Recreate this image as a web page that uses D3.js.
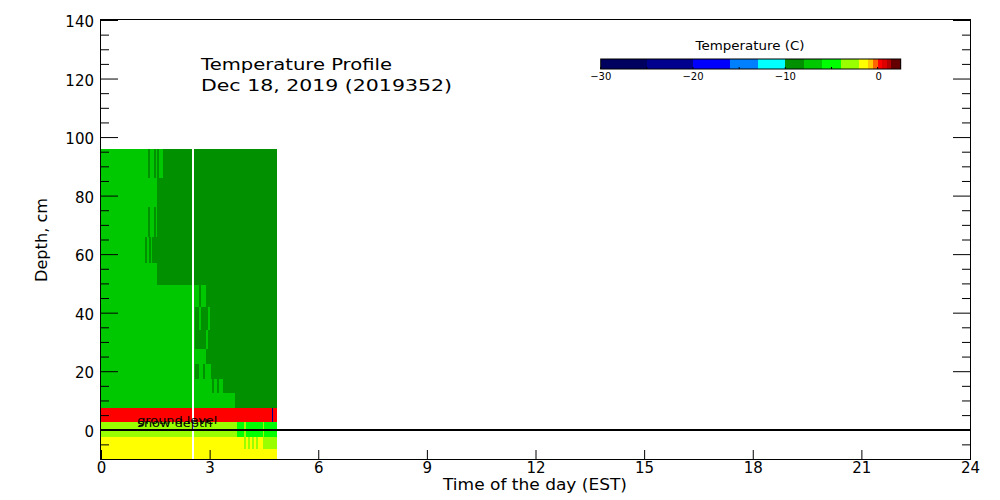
<!DOCTYPE html>
<html><head><meta charset="utf-8">
<script src="https://cdn.jsdelivr.net/npm/d3@7"></script>
<style>
body{margin:0;background:#fff}
svg{display:block}
text{font-family:"DejaVu Sans",sans-serif;fill:#000}
</style>
</head><body>
<svg id="c" width="1000" height="500"></svg>
<script>
// ---------- data ----------
const titleLines = ["Temperature Profile", "Dec 18, 2019 (2019352)"];
const xTitle = "Time of the day (EST)";
const yTitle = "Depth, cm";
const legendTitle = "Temperature (C)";
const hourTicks = [0, 3, 6, 9, 12, 15, 18, 21, 24];
const depthMajorTicks = [0, 20, 40, 60, 80, 100, 120, 140];
const depthMinorTicks = [-5, 5, 10, 15, 25, 30, 35, 45, 50, 55, 65, 70, 75, 85, 90, 95, 105, 110, 115, 125, 130, 135];
const colorEdges = [-30, -25, -20, -16, -13, -10, -8, -6, -4, -2, -1, -0.5, 0, 0.5, 1, 1.5, 2.5];
const colorHex = ["#00005f", "#00008f", "#0000ff", "#0080ff", "#00ffff", "#009000", "#00c800", "#00ff00",
                  "#99ff00", "#ffff00", "#ffc800", "#ff6400", "#ff0000", "#dc0000", "#b00000", "#640000"];
const legendTicks = [-30, -20, -10, 0];
const legendMinorTicks = [-25, -15, -5];
const levelLabels = ["ground level", "snow depth"];
const levelDepths = [2.0, 1.0];
const zeroDepth = 0;

// depth boundaries of sensor layers (cm), top to bottom
const depthEdges = [96, 86, 76, 66, 57, 49.5, 42, 34, 27.5, 22.5, 17.5, 12.5, 7.5, 2.5, -2.5, -6.5, -10];
// per layer: [start hour, end hour, temperature C]
const rowSegments = [
  [[0,1.30,-7.2],[1.30,1.35,-8.3],[1.35,1.46,-7.8],[1.46,1.52,-8.2],[1.52,1.55,-7.9],[1.55,1.60,-8.1],[1.60,1.71,-7.9],[1.71,2.51,-8.6],[2.57,4.86,-9.1]],
  [[0,1.55,-7.3],[1.55,2.51,-8.5],[2.57,4.86,-9.0]],
  [[0,1.30,-7.3],[1.30,1.35,-8.2],[1.35,1.46,-7.9],[1.46,1.52,-8.1],[1.52,1.55,-7.9],[1.55,2.51,-8.4],[2.57,4.86,-8.9]],
  [[0,1.22,-7.2],[1.22,1.27,-8.1],[1.27,1.33,-7.9],[1.33,1.37,-8.1],[1.37,1.41,-7.9],[1.41,2.51,-8.3],[2.57,4.86,-8.8]],
  [[0,1.55,-7.1],[1.55,2.51,-8.2],[2.57,4.86,-8.7]],
  [[0,2.51,-7.0],[2.57,2.71,-7.8],[2.71,2.76,-8.1],[2.76,2.90,-7.9],[2.90,4.86,-8.6]],
  [[0,2.51,-6.9],[2.57,2.60,-7.9],[2.60,2.71,-8.1],[2.71,2.76,-7.9],[2.76,2.96,-8.2],[2.96,3.01,-7.9],[3.01,4.86,-8.5]],
  [[0,2.51,-6.8],[2.57,2.60,-7.9],[2.60,2.90,-8.1],[2.90,2.96,-7.9],[2.96,4.86,-8.4]],
  [[0,2.51,-6.7],[2.57,2.90,-7.8],[2.90,4.86,-8.3]],
  [[0,2.51,-6.6],[2.57,2.60,-7.9],[2.60,2.71,-8.1],[2.71,2.82,-7.9],[2.82,2.87,-8.1],[2.87,3.04,-7.9],[3.04,4.86,-8.2]],
  [[0,2.51,-6.5],[2.57,3.07,-7.7],[3.07,3.12,-8.1],[3.12,3.20,-7.9],[3.20,3.26,-8.1],[3.26,3.37,-7.9],[3.37,4.86,-8.1]],
  [[0,2.51,-6.4],[2.57,3.70,-7.6],[3.70,4.86,-8.1]],
  [[0,2.51,0.2],[2.57,4.72,0.2],[4.72,4.75,-22.0],[4.75,4.86,0.2]],
  [[0,2.51,-3.0],[2.57,3.76,-3.6],[3.76,3.95,-4.2],[3.95,4.00,-3.9],[4.00,4.47,-4.3],[4.47,4.50,-3.9],[4.50,4.86,-4.4]],
  [[0,2.51,-1.5],[2.57,3.95,-1.8],[3.95,4.00,-2.1],[4.00,4.06,-1.9],[4.06,4.12,-2.1],[4.12,4.17,-1.9],[4.17,4.23,-2.1],[4.23,4.28,-1.9],[4.28,4.34,-2.1],[4.34,4.47,-1.9],[4.47,4.86,-2.2]],
  [[0,2.51,-1.3],[2.57,4.86,-1.6]]
];

// ---------- drawing ----------
const svg = d3.select("#c");
const x = d3.scaleLinear().domain([0, 24]).range([101, 970]);
const y = d3.scaleLinear().domain([-10, 140]).range([459, 20]);
const color = d3.scaleThreshold().domain(colorEdges.slice(1, -1)).range(colorHex);

// heatmap cells
const cells = [];
rowSegments.forEach((segs, i) => segs.forEach(s => cells.push({t0: s[0], t1: s[1], temp: s[2], top: depthEdges[i], bot: depthEdges[i + 1]})));
svg.append("g").attr("shape-rendering", "crispEdges")
  .selectAll("rect").data(cells).join("rect")
  .attr("x", d => x(d.t0)).attr("width", d => x(d.t1) - x(d.t0))
  .attr("y", d => y(d.top)).attr("height", d => y(d.bot) - y(d.top))
  .attr("fill", d => color(d.temp));

// level labels
svg.append("g").selectAll("text").data(levelLabels).join("text")
  .attr("x", x(1.0)).attr("y", (d, i) => y(levelDepths[i]))
  .attr("font-size", 11)
  .attr("textLength", (d, i) => i === 0 ? 80 : 75)
  .attr("lengthAdjust", "spacingAndGlyphs")
  .text(d => d);

// zero line
svg.append("line")
  .attr("x1", x(0)).attr("x2", x(24)).attr("y1", Math.round(y(zeroDepth))).attr("y2", Math.round(y(zeroDepth)))
  .attr("stroke", "#000").attr("stroke-width", 2);

// axes
const styleAxis = g => { g.select(".domain").remove(); g.attr("font-family", "DejaVu Sans").attr("font-size", 15); g.selectAll("line").attr("stroke", "#000"); g.selectAll("text").attr("fill", "#000"); };
svg.append("g").attr("transform", `translate(${x(0)},0)`)
  .call(d3.axisLeft(y).tickValues(depthMajorTicks).tickSize(-17).tickPadding(7).tickFormat(d3.format("d")))
  .call(styleAxis).call(g => g.selectAll("text").attr("dy", "0.45em"));
svg.append("g").attr("transform", `translate(${x(0)},0)`)
  .call(d3.axisLeft(y).tickValues(depthMinorTicks).tickSize(-8).tickFormat(""))
  .call(styleAxis);
svg.append("g").attr("transform", `translate(${x(24)},0)`)
  .call(d3.axisRight(y).tickValues(depthMajorTicks).tickSize(-17).tickFormat(""))
  .call(styleAxis);
svg.append("g").attr("transform", `translate(${x(24)},0)`)
  .call(d3.axisRight(y).tickValues(depthMinorTicks).tickSize(-8).tickFormat(""))
  .call(styleAxis);
svg.append("g").attr("transform", `translate(0,${y(-10)})`)
  .call(d3.axisBottom(x).tickValues(hourTicks).tickSize(-9).tickPadding(3).tickFormat(d3.format("d")))
  .call(styleAxis);

// frame
svg.append("rect")
  .attr("x", x(0) - 0.5).attr("y", y(140) - 0.5)
  .attr("width", x(24) - x(0) + 1).attr("height", y(-10) - y(140) + 1)
  .attr("fill", "none").attr("stroke", "#000").attr("stroke-width", 1);

// axis titles
svg.append("text").attr("x", 535).attr("y", 490).attr("text-anchor", "middle")
  .attr("font-size", 15).attr("textLength", 184).attr("lengthAdjust", "spacingAndGlyphs").text(xTitle);
svg.append("text").attr("transform", "translate(47,240) rotate(-90)").attr("text-anchor", "middle")
  .attr("font-size", 15).attr("textLength", 84).attr("lengthAdjust", "spacingAndGlyphs").text(yTitle);

// title
svg.append("g").selectAll("text").data(titleLines).join("text")
  .attr("x", 201).attr("y", (d, i) => i === 0 ? 69.5 : 91)
  .attr("font-size", 15)
  .attr("textLength", (d, i) => i === 0 ? 191 : 251)
  .attr("lengthAdjust", "spacingAndGlyphs")
  .text(d => d);

// color legend
const cx = d3.scaleLinear().domain([colorEdges[0], colorEdges[colorEdges.length - 1]]).range([600.7, 900.7]);
const leg = svg.append("g");
leg.append("g").attr("shape-rendering", "crispEdges")
  .selectAll("rect").data(colorHex).join("rect")
  .attr("x", (d, i) => cx(colorEdges[i])).attr("width", (d, i) => cx(colorEdges[i + 1]) - cx(colorEdges[i]))
  .attr("y", 59).attr("height", 10).attr("fill", d => d);
leg.append("rect").attr("x", cx(colorEdges[0])).attr("y", 59)
  .attr("width", cx(colorEdges[colorEdges.length - 1]) - cx(colorEdges[0])).attr("height", 10)
  .attr("fill", "none").attr("stroke", "#000").attr("stroke-width", 1);
leg.selectAll("line.tk").data(legendTicks.concat(legendMinorTicks)).join("line").attr("class", "tk")
  .attr("x1", d => cx(d)).attr("x2", d => cx(d)).attr("y1", 69).attr("y2", 67)
  .attr("stroke", "#000");
leg.selectAll("text.lb").data(legendTicks).join("text").attr("class", "lb")
  .attr("x", d => cx(d) + (d === 0 ? 1 : 0)).attr("y", 79.5).attr("text-anchor", "middle")
  .attr("font-size", 10).text(d => d3.format("d")(d));
leg.append("text").attr("x", 750).attr("y", 50).attr("text-anchor", "middle")
  .attr("font-size", 12).attr("textLength", 109).attr("lengthAdjust", "spacingAndGlyphs").text(legendTitle);
</script>
</body></html>
